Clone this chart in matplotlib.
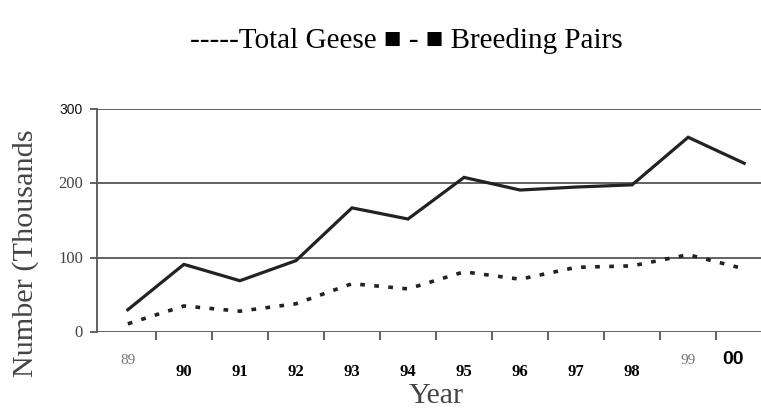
import numpy as np
import matplotlib.pyplot as plt

years = ['89', '90', '91', '92', '93', '94', '95', '96', '97', '98', '99', '00']
total_geese = [30, 91, 69, 96, 167, 152, 208, 191, 195, 198, 262, 227]
breeding_pairs = [11, 35, 28, 38, 65, 58, 81, 71, 87, 89, 104, 85]
yticks = [0, 100, 200, 300]

x = np.arange(len(years))

fig = plt.figure(figsize=(7.61, 4.10), dpi=100)
ax = fig.add_axes([0.1275, 0.1878, 0.8725, 0.5439])

ax.plot(x, total_geese, color='#222222', lw=2.3, solid_joinstyle='miter')
ax.plot(x, breeding_pairs, color='#222222', lw=2.6, linestyle=(0, (1.3, 2.6)))

ax.set_xlim(-0.55, 11.3)
ax.set_ylim(0, 300)
for v in yticks:
    ax.axhline(v, color='#555555', lw=1.3, zorder=0)

for s in ['top', 'right', 'bottom']:
    ax.spines[s].set_visible(False)
ax.spines['left'].set_color('#555555')
ax.spines['left'].set_linewidth(1.3)

ax.set_xticks(x[:-1] + 0.5)
ax.set_xticklabels([])
ax.tick_params(axis='x', length=6, width=1.3, color='#555555', direction='out')
ax.set_yticks(yticks)
ax.set_yticklabels([])
ax.tick_params(axis='y', length=5, width=1.3, color='#555555')

# y tick labels (mixed fonts, as scanned)
trans_y = ax.get_yaxis_transform()
ax.text(-0.021, 300, '300', transform=trans_y, ha='right', va='center',
        fontsize=10, family='Liberation Sans', color='#111111')
for v in [200, 100, 0]:
    ax.text(-0.021, v, str(v), transform=trans_y, ha='right', va='center',
            fontsize=12, family='Liberation Serif', color='#444444')

# x tick labels
trans_x = ax.get_xaxis_transform()
for i, lab in enumerate(years):
    if lab in ('89', '99'):
        ax.text(i, -0.124, lab, transform=trans_x, ha='center', va='center',
                fontsize=11, family='Liberation Serif', color='#777777')
    elif lab == '00':
        ax.text(i - 0.2, -0.121, lab, transform=trans_x, ha='center', va='center',
                fontsize=14, family='Liberation Sans', fontweight='bold', color='black')
    else:
        ax.text(i, -0.177, lab, transform=trans_x, ha='center', va='center',
                fontsize=12, family='Liberation Serif', fontweight='bold', color='black')

fig.text(0.033, 0.383, 'Number (Thousands', rotation=90, ha='center', va='center',
         fontsize=21.8, family='Liberation Serif', color='#444444')
fig.text(0.573, 0.002, 'Year', ha='center', va='bottom',
         fontsize=21.5, family='Liberation Serif', color='#444444')

fig.text(0.534, 0.9, '-----Total Geese \u25a0 - \u25a0 Breeding Pairs', ha='center', va='center',
         fontsize=21, family=['Liberation Serif', 'DejaVu Sans'], color='black')

fig.savefig('out.png', dpi=100)
